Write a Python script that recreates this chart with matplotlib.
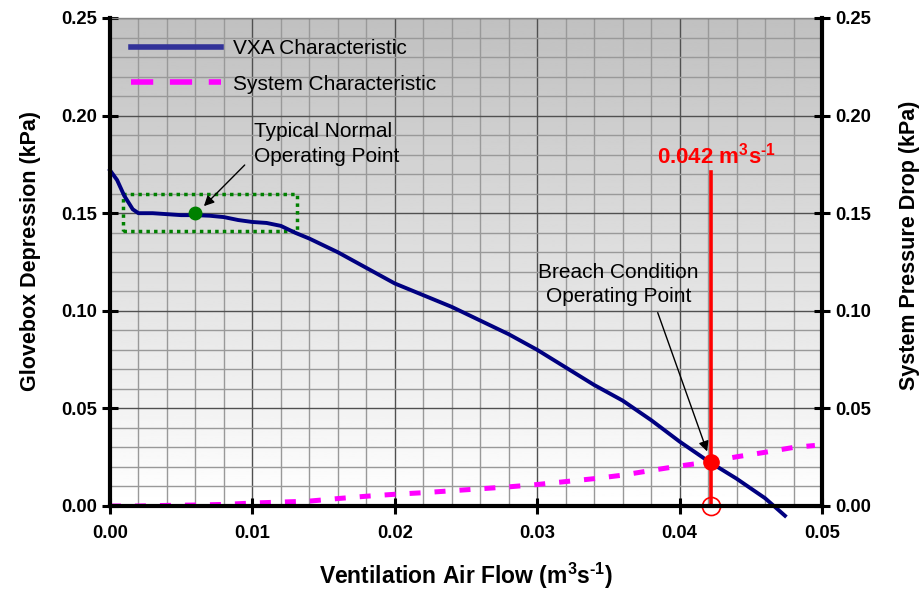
import numpy as np
import matplotlib
matplotlib.use('Agg')
import matplotlib.pyplot as plt
from matplotlib.lines import Line2D
from matplotlib.ticker import MultipleLocator, FormatStrFormatter

# fonts
plt.rcParams['font.family'] = ['Liberation Sans', 'DejaVu Sans']
plt.rcParams['mathtext.fontset'] = 'custom'
plt.rcParams['mathtext.rm'] = 'Liberation Sans:bold'
plt.rcParams['mathtext.it'] = 'Liberation Sans:bold'
plt.rcParams['mathtext.bf'] = 'Liberation Sans:bold'

# data
vxa_x = [0.0, 0.0005, 0.001, 0.0016, 0.002, 0.003, 0.004, 0.005, 0.006, 0.007,
         0.008, 0.009, 0.010, 0.011, 0.012, 0.013, 0.014, 0.016, 0.018, 0.020,
         0.022, 0.024, 0.026, 0.028, 0.030, 0.032, 0.034, 0.036, 0.038, 0.040,
         0.042, 0.044, 0.046, 0.0474]
vxa_y = [0.172, 0.167, 0.159, 0.152, 0.150, 0.150, 0.1495, 0.149, 0.149, 0.1487,
         0.148, 0.1465, 0.1455, 0.145, 0.1435, 0.140, 0.137, 0.130, 0.122, 0.114,
         0.108, 0.102, 0.095, 0.088, 0.080, 0.071, 0.062, 0.054, 0.044, 0.033,
         0.023, 0.014, 0.004, -0.005]

sys_x = [0.0, 0.002, 0.004, 0.006, 0.008, 0.010, 0.012, 0.014, 0.016, 0.018,
         0.020, 0.022, 0.024, 0.026, 0.028, 0.030, 0.032, 0.034, 0.036, 0.038,
         0.040, 0.042, 0.044, 0.046, 0.048, 0.0495]
sys_y = [0.000, 0.000, 0.0003, 0.0005, 0.0008, 0.0015, 0.002, 0.0025, 0.0038, 0.005,
         0.006, 0.0068, 0.0078, 0.0088, 0.0098, 0.011, 0.0125, 0.014, 0.0158, 0.0182,
         0.0205, 0.0225, 0.0252, 0.0275, 0.0300, 0.031]

normal_pt = (0.006, 0.150)
breach_pt = (0.0422, 0.0223)
breach_flow = 0.0422
normal_box = (0.0009, 0.141, 0.0131, 0.160)  # x0, y0, x1, y1

fig = plt.figure(figsize=(9.24, 5.92), dpi=100)
ax = fig.add_axes([0.119, 0.1453, 0.7706, 0.8243])

# grey gradient background (dark at top, white at bottom)
grad = np.linspace(0.753, 1.0, 256).reshape(-1, 1)
ax.imshow(grad, cmap='gray', vmin=0, vmax=1, aspect='auto', origin='upper',
          extent=[0, 1, 0, 1], transform=ax.transAxes, zorder=0)

ax.set_xlim(0, 0.05)
ax.set_ylim(0, 0.25)
ax.xaxis.set_major_locator(MultipleLocator(0.01))
ax.xaxis.set_minor_locator(MultipleLocator(0.002))
ax.yaxis.set_major_locator(MultipleLocator(0.05))
ax.yaxis.set_minor_locator(MultipleLocator(0.01))
ax.xaxis.set_major_formatter(FormatStrFormatter('%.2f'))
ax.yaxis.set_major_formatter(FormatStrFormatter('%.2f'))
ax.grid(True, which='major', color='#505050', lw=1.0, zorder=1)
ax.grid(True, which='minor', color='#999999', lw=1.0, zorder=1)
ax.set_axisbelow(True)

# curves
ax.plot(vxa_x, vxa_y, color='#000080', lw=2.8, zorder=4, clip_on=False)
ax.plot(sys_x, sys_y, color='#ff00ff', lw=3.6, dashes=(2.2, 2.8), zorder=4)

# normal operating box and point
x0, y0, x1, y1 = normal_box
ax.plot([x0, x1, x1, x0, x0], [y0, y0, y1, y1, y0], color='#008000',
        lw=2.5, ls=(0, (1, 1.2)), zorder=3)
ax.plot(*normal_pt, 'o', color='#008000', ms=9, zorder=5)

# breach line and point
ax.plot([breach_flow, breach_flow], [0, 0.171], color='red', lw=2.6, zorder=5)
ax.plot(*breach_pt, 'o', color='red', ms=11, zorder=6)
ax.plot(breach_flow, 0, 'o', mfc='none', mec='red', mew=1.2, ms=13,
        zorder=6, clip_on=False)
ax.text(0.0426, 0.1757, r'0.042 m$^{3}$s$^{\text{-1}}$', color='red',
        fontsize=16, fontweight='bold', ha='center', va='baseline')

# annotations
ax.text(0.0101, 0.1966, 'Typical Normal\nOperating Point', fontsize=15,
        ha='left', va='top', linespacing=1.38)
ax.annotate('', xy=(0.00646, 0.1526), xytext=(0.0096, 0.1757),
            arrowprops=dict(arrowstyle='-|>', color='black', lw=1.0,
                            mutation_scale=15), zorder=6)
ax.text(0.0357, 0.1246, 'Breach Condition\nOperating Point', fontsize=15,
        ha='center', va='top', multialignment='center', linespacing=1.38)
ax.annotate('', xy=(0.0420, 0.0266), xytext=(0.0384, 0.1004),
            arrowprops=dict(arrowstyle='-|>', color='black', lw=1.0,
                            mutation_scale=15), zorder=6)

# spines and ticks
for s in ['left', 'right', 'bottom']:
    ax.spines[s].set_linewidth(3)
    ax.spines[s].set_color('black')
    ax.spines[s].set_zorder(7)
ax.spines['top'].set_color('#888888')
ax.spines['top'].set_linewidth(1)
ax.tick_params(which='major', direction='inout', length=11, width=2.2,
               labelsize=13.3, pad=4)
ax.tick_params(axis='x', which='major', pad=8)
ax.tick_params(which='minor', length=0)
for lbl in ax.get_xticklabels() + ax.get_yticklabels():
    lbl.set_fontweight('bold')

ax2 = ax.twinx()
ax2.set_ylim(0, 0.25)
ax2.yaxis.set_major_locator(MultipleLocator(0.05))
ax2.yaxis.set_major_formatter(FormatStrFormatter('%.2f'))
ax2.tick_params(which='major', direction='inout', length=11, width=2.2,
                labelsize=13.3, pad=4)
for lbl in ax2.get_yticklabels():
    lbl.set_fontweight('bold')
for s in ax2.spines.values():
    s.set_visible(False)

ax.set_xlabel(r'Ventilation Air Flow (m$^{3}$s$^{\text{-1}}$)', fontsize=16.5,
              fontweight='bold')
ax.xaxis.set_label_coords(0.5, -0.113)
ax.set_ylabel('Glovebox Depression (kPa)', fontsize=15.5, fontweight='bold')
ax.yaxis.set_label_coords(-0.097, 0.523)
ax2.set_ylabel('System Pressure Drop (kPa)', fontsize=15.5, fontweight='bold')
ax2.yaxis.set_label_coords(1.108, 0.535)

# legend
handles = [Line2D([], [], color='#333399', lw=4),
           Line2D([], [], color='#ff00ff', lw=4, dashes=(4, 3))]
ax.legend(handles, ['VXA Characteristic', 'System Characteristic'],
          loc='upper left', bbox_to_anchor=(0.0295, 0.957), frameon=False,
          fontsize=15, handlelength=4.3, handletextpad=0.6,
          labelspacing=0.8, borderpad=0, borderaxespad=0)

fig.savefig('out.png', dpi=100)
